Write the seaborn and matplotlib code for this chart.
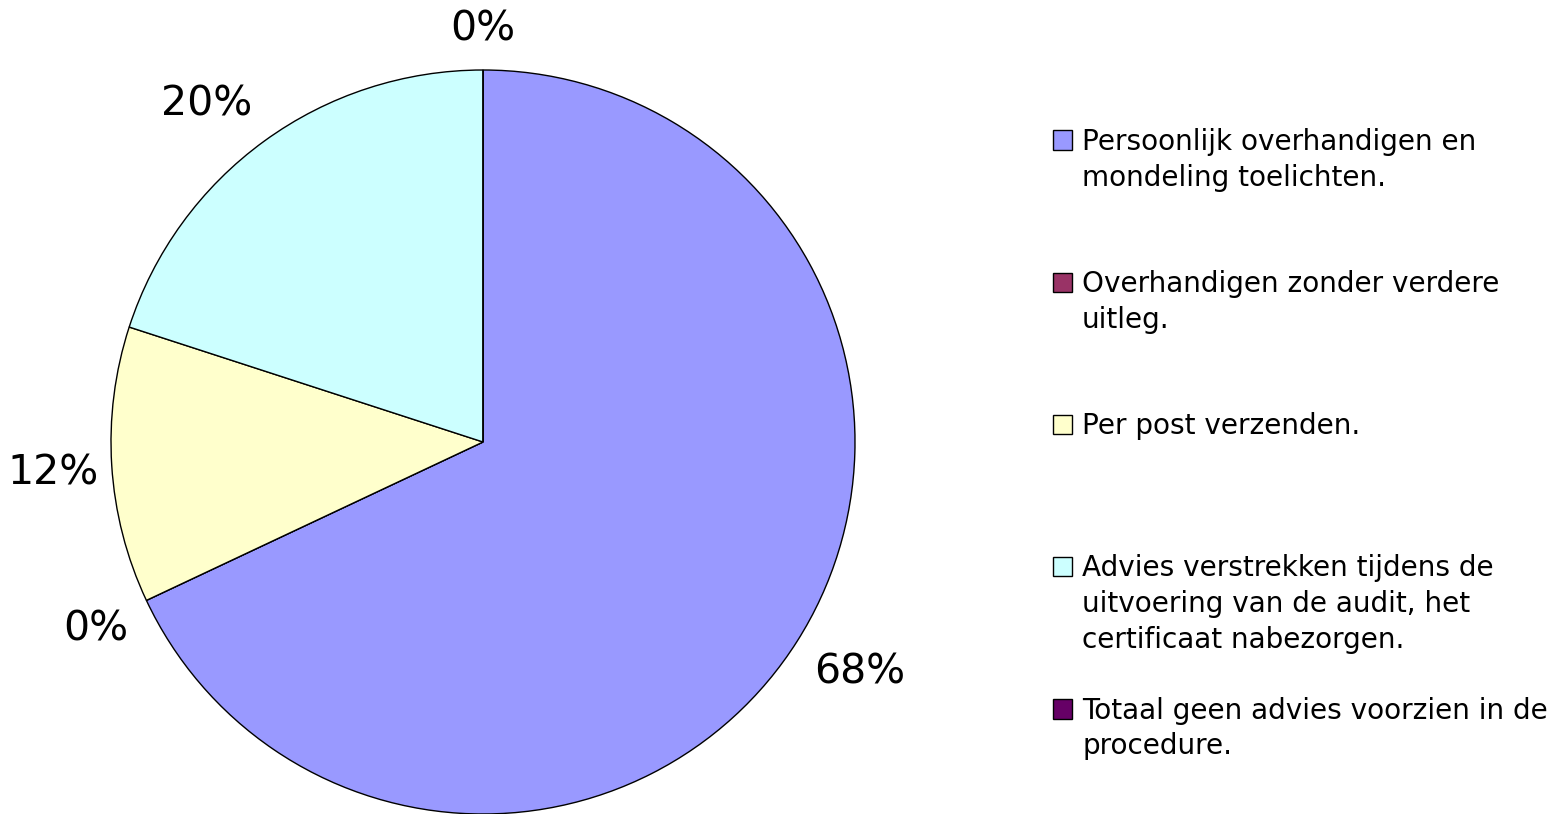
import matplotlib
matplotlib.use("Agg")
import matplotlib.pyplot as plt
import matplotlib.patches as mpatches
import numpy as np
import seaborn as sns

categories = [
    "Persoonlijk overhandigen en\nmondeling toelichten.",
    "Overhandigen zonder verdere\nuitleg.",
    "Per post verzenden.",
    "Advies verstrekken tijdens de\nuitvoering van de audit, het\ncertificaat nabezorgen.",
    "Totaal geen advies voorzien in de\nprocedure.",
]
values = [68, 0, 12, 20, 0]
colors = ["#9999FF", "#993366", "#FFFFCC", "#CCFFFF", "#660066"]

sns.set_theme(style="white")
plt.rcParams["font.family"] = ["DejaVu Sans"]
plt.rcParams["text.color"] = "black"

W, H = 1565, 814
fig = plt.figure(figsize=(W / 100, H / 100), dpi=100)
ax = fig.add_axes([111 / W, 0 / H, 744 / W, 744 / H])

wedges, texts = ax.pie(
    values,
    colors=colors,
    startangle=90,
    counterclock=False,
    radius=1.0,
    wedgeprops=dict(edgecolor="black", linewidth=1.0),
)
ax.set_xlim(-1, 1)
ax.set_ylim(-1, 1)
ax.set_aspect("equal")
ax.axis("off")

# percentage labels just outside the rim, anchored away from the pie
total = sum(values)
dist = 1.055
for w, v in zip(wedges, values):
    ang = np.deg2rad((w.theta1 + w.theta2) / 2)
    c, s = np.cos(ang), np.sin(ang)
    ha = "left" if c > 0.15 else ("right" if c < -0.15 else "center")
    va = "bottom" if s > 0.15 else ("top" if s < -0.15 else "center")
    d = dist if abs(s) > 0.15 else dist - 0.02
    ax.text(d * c, d * s - (0.02 if abs(s) <= 0.15 else 0), f"{100 * v / total:.0f}%",
            ha=ha, va=va, fontsize=29.5, color="black", clip_on=False)

# legend: one row per text line, handle on the first line of each entry
rows_per_entry = 4
handles, labels = [], []
for cat, col in zip(categories, colors):
    lines = cat.split("\n")
    for i in range(rows_per_entry):
        if i == 0:
            handles.append(mpatches.Patch(facecolor=col, edgecolor="black", linewidth=1.0))
        else:
            handles.append(mpatches.Patch(facecolor="none", edgecolor="none"))
        labels.append(lines[i] if i < len(lines) else " ")
handles = handles[:-2]
labels = labels[:-2]

leg = fig.legend(
    handles, labels,
    loc="upper left",
    bbox_to_anchor=(1053 / W, 1 - 128 / H),
    frameon=False,
    fontsize=20.1,
    handlelength=0.68,
    handleheight=0.7,
    handletextpad=0.36,
    labelspacing=0.27,
    borderpad=0,
    borderaxespad=0,
)
for t in leg.get_texts():
    t.set_color("black")

fig.savefig("out.png", dpi=100)
